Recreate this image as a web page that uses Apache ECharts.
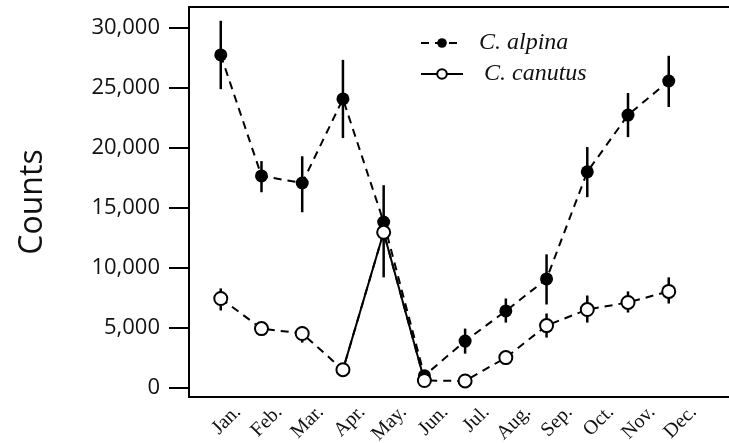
<!DOCTYPE html>
<html>
<head>
<meta charset="utf-8">
<script src="https://cdn.jsdelivr.net/npm/echarts@6/dist/echarts.min.js"></script>
<style>
  html, body { margin: 0; padding: 0; background: #fff; }
  #chart { width: 729px; height: 443px; }
</style>
</head>
<body>
<div id="chart"></div>
<script>
// month labels
const months = ['Jan.', 'Feb.', 'Mar.', 'Apr.', 'May.', 'Jun.', 'Jul.', 'Aug.', 'Sep.', 'Oct.', 'Nov.', 'Dec.'];
const yTicks = [0, 5000, 10000, 15000, 20000, 25000, 30000];

// C. alpina, means and error bar ends
const alpina   = [27750, 17660, 17070, 24080, 13820, 1000, 3890, 6400, 9070, 18000, 22740, 25580];
const alpinaLo = [24900, 16300, 14630, 20820, 9200, null, 2840, 5430, 6940, 15890, 20900, 23410];
const alpinaHi = [30600, 18900, 19300, 27340, 16890, null, 4930, 7440, 11120, 20070, 24580, 27680];

// C. canutus
const canutus   = [7440, 4930, 4520, 1500, 12960, 600, 560, 2510, 5180, 6520, 7110, 8030];
const canutusLo = [6440, null, 3760, null, null, null, null, null, 4180, 5430, 6270, 7020];
const canutusHi = [8280, null, 5100, null, null, null, null, null, 6190, 7690, 8030, 9200];

// the solid stretch of the canutus line (Apr. - Jun.)
const solidFrom = 3, solidTo = 5;

var chartDom = document.getElementById('chart');
var myChart = echarts.init(chartDom, null, {renderer: 'canvas'});

const toPairs = arr => arr.map((v, i) => [i, v]);
const toBars = (lo, hi) => lo.map((v, i) => [i, v, hi[i]]).filter(d => d[1] != null);

const errorBars = (name, data) => ({
    name: name,
    type: 'custom',
    xAxisIndex: 0,
    z: 1,
    silent: true,
    renderItem: (params, api) => {
        const top = api.coord([api.value(0), api.value(2)]);
        const bot = api.coord([api.value(0), api.value(1)]);
        return {
            type: 'line',
            shape: {x1: top[0], y1: top[1], x2: bot[0], y2: bot[1]},
            style: {stroke: '#000', lineWidth: 2.5}
        };
    },
    encode: {x: 0, y: [1, 2]},
    data: data
});

const blackLine = {show: true, onZero: false, lineStyle: {color: '#000', width: 2}};

var option = {
    animation: false,
    backgroundColor: '#fff',
    grid: {left: 189, right: 0, top: 7, bottom: 46, outerBoundsMode: 'none', containLabel: false},
    legend: {
        orient: 'vertical',
        left: 415,
        top: 26,
        itemWidth: 42,
        itemHeight: 12,
        itemGap: 7,
        selectedMode: false,
        textStyle: {
            fontFamily: 'Liberation Serif',
            fontStyle: 'italic',
            fontSize: 24,
            color: '#111'
        },
        data: [
            {name: 'C. alpina', textStyle: {padding: [0, 0, 0, 11]}},
            {name: 'C. canutus', lineStyle: {type: 'solid'}, textStyle: {padding: [0, 0, 0, 16]}}
        ]
    },
    xAxis: [
        {
            type: 'value',
            min: -0.78,
            max: 12.48,
            axisLine: blackLine,
            axisTick: {show: false},
            axisLabel: {show: false},
            splitLine: {show: false}
        },
        {
            // label axis, slightly shifted like the original
            type: 'value',
            position: 'bottom',
            min: -1.175,
            max: 11.853,
            axisLine: {show: false},
            axisTick: {show: false},
            splitLine: {show: false},
            axisLabel: {
                customValues: months.map((m, i) => i),
                rotate: 45,
                margin: 12,
                formatter: v => months[Math.round(v)] || '',
                fontFamily: 'Liberation Serif',
                fontSize: 20,
                color: '#111'
            }
        },
        {
            // top frame line
            type: 'value',
            position: 'top',
            min: 0,
            max: 1,
            axisLine: blackLine,
            axisTick: {show: false},
            axisLabel: {show: false},
            splitLine: {show: false}
        }
    ],
    yAxis: {
        type: 'value',
        min: -776,
        max: 31750,
        name: 'Counts',
        nameLocation: 'middle',
        nameGap: 140,
        nameTextStyle: {fontFamily: 'Open Sans', fontSize: 32, color: '#111'},
        axisLine: blackLine,
        axisTick: {show: true, length: 20, lineStyle: {color: '#000', width: 2}, customValues: yTicks},
        axisLabel: {
            customValues: yTicks,
            margin: 29,
            fontFamily: 'Open Sans',
            fontSize: 22,
            color: '#111',
            formatter: v => v.toLocaleString('en-US')
        },
        splitLine: {show: false}
    },
    series: [
        errorBars('alpinaErr', toBars(alpinaLo, alpinaHi)),
        errorBars('canutusErr', toBars(canutusLo, canutusHi)),
        {
            name: 'C. alpina',
            type: 'line',
            z: 2,
            data: toPairs(alpina),
            symbol: 'circle',
            symbolSize: 13,
            color: '#000',
            itemStyle: {color: '#000'},
            lineStyle: {color: '#000', width: 2, type: [8, 6]}
        },
        {
            name: 'canutusSolid',
            type: 'line',
            z: 2,
            data: toPairs(canutus.map((v, i) => (i >= solidFrom && i <= solidTo) ? v : null)),
            showSymbol: false,
            symbol: 'none',
            lineStyle: {color: '#000', width: 2, type: 'solid'}
        },
        {
            name: 'C. canutus',
            type: 'line',
            z: 3,
            data: toPairs(canutus),
            symbol: 'emptyCircle',
            symbolSize: 13,
            color: '#000',
            itemStyle: {color: '#000', borderWidth: 2},
            lineStyle: {color: '#000', width: 2, type: [8, 6]}
        }
    ]
};

myChart.setOption(option);
</script>
</body>
</html>
